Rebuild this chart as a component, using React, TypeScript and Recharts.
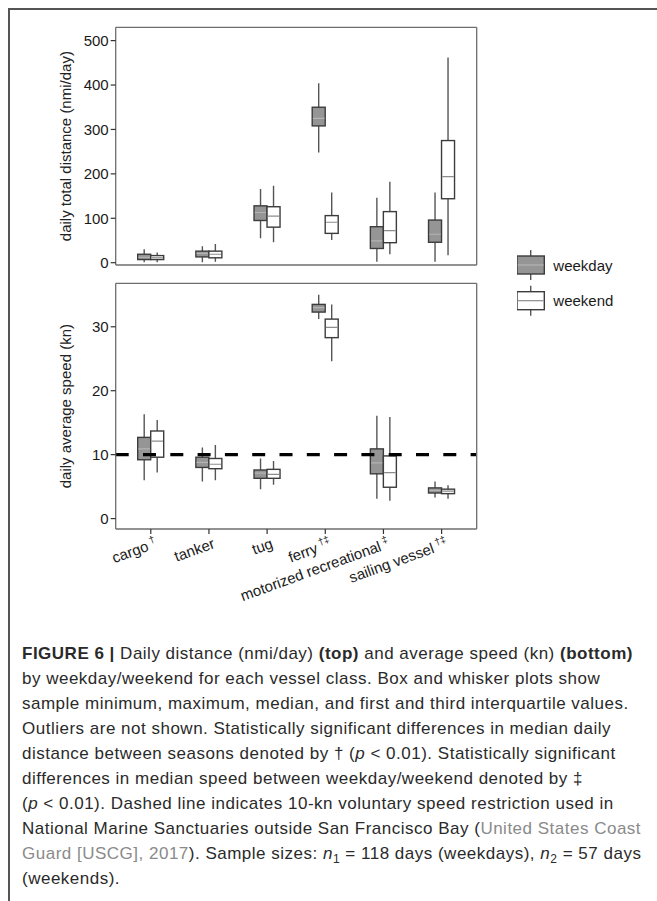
import React from "react";
import { ComposedChart, Bar, XAxis, YAxis, ReferenceLine } from "recharts";

const vesselClasses = ["cargo", "tanker", "tug", "ferry", "motorized recreational", "sailing vessel"];
const classMarks = ["†", "", "", "†‡", "‡", "†‡"];

// each entry: [min, q1, median, q3, max]
const distanceWeekday = [
  [1, 7, 12, 19, 30],
  [1, 13, 21, 26, 37],
  [55, 95, 113, 128, 166],
  [248, 308, 325, 350, 404],
  [2, 32, 49, 81, 146],
  [2, 46, 64, 96, 158],
];
const distanceWeekend = [
  [1, 7, 11, 16, 23],
  [2, 11, 19, 26, 42],
  [46, 80, 105, 126, 173],
  [51, 66, 91, 106, 158],
  [19, 45, 72, 115, 182],
  [17, 144, 194, 275, 462],
];
const speedWeekday = [
  [6.0, 9.2, 10.9, 12.7, 16.3],
  [5.8, 8.0, 8.8, 9.6, 11.1],
  [4.6, 6.3, 7.1, 7.6, 9.4],
  [31.2, 32.3, 33.0, 33.5, 35.0],
  [3.1, 7.0, 8.7, 10.9, 16.1],
  [3.3, 4.0, 4.4, 4.8, 5.8],
];
const speedWeekend = [
  [7.2, 9.6, 12.1, 13.7, 15.4],
  [6.0, 7.8, 8.5, 9.4, 11.5],
  [5.3, 6.3, 6.9, 7.7, 9.0],
  [24.6, 28.3, 29.9, 31.2, 33.5],
  [2.8, 4.9, 7.2, 9.8, 15.9],
  [3.1, 3.9, 4.3, 4.6, 5.2],
];
const distanceTicks = [0, 100, 200, 300, 400, 500];
const speedTicks = [0, 10, 20, 30];
const speedLimit = 10;

const FONT = '"Liberation Sans", Arial, Helvetica, sans-serif';
const WEEKDAY_FILL = "#959595";
const WEEKEND_FILL = "#ffffff";
const FRAME = "#6e6e6e";

const buildRows = (wd: number[][], we: number[][]) =>
  vesselClasses.map((name, i) => ({
    name,
    idx: i,
    wd: [wd[i][1], wd[i][3]],
    we: [we[i][1], we[i][3]],
    wdStats: wd[i],
    weStats: we[i],
  }));

const distanceRows = buildRows(distanceWeekday, distanceWeekend);
const speedRows = buildRows(speedWeekday, speedWeekend);

const boxShape = (key: "wdStats" | "weStats", fill: string, medianColor: string) => (props: any) => {
  const { x, y, width, height, payload } = props;
  if (!payload) return <g />;
  const [mn, q1, med, q3, mx] = payload[key];
  const top = Math.min(y, y + height);
  const h = Math.abs(height);
  const k = h / (q3 - q1);
  const py = (v: number) => top + (q3 - v) * k;
  const cx = x + width / 2;
  return (
    <g>
      <line x1={cx} x2={cx} y1={py(mx)} y2={py(mn)} stroke="#555" strokeWidth={1.4} />
      <rect x={x} y={top} width={width} height={h} fill={fill} stroke="#3c3c3c" strokeWidth={1.4} />
      <line x1={x + 0.7} x2={x + width - 0.7} y1={py(med)} y2={py(med)} stroke={medianColor} strokeWidth={1.2} />
    </g>
  );
};

const yTitle = (text: string) => (props: any) => {
  const vb = props.viewBox || {};
  const cx = vb.x + 8.3;
  const cy = vb.y + vb.height / 2;
  return (
    <text
      x={cx}
      y={cy}
      transform={`rotate(-90 ${cx} ${cy})`}
      textAnchor="middle"
      dominantBaseline="central"
      fontSize={15}
      fontFamily={FONT}
      fill="#222"
    >
      {text}
    </text>
  );
};

const VesselTick = (props: any) => {
  const { x, y, payload } = props;
  const mark = classMarks[payload.index] || "";
  return (
    <g transform={`translate(${x + 3},${y + 1}) rotate(-20)`}>
      <text textAnchor="end" dy="0.75em" fontSize={15} fontFamily={FONT} fill="#1a1a1a">
        {payload.value}
        {mark ? (
          <tspan dx={3} dy={-6} fontSize={10}>
            {mark}
          </tspan>
        ) : null}
      </text>
    </g>
  );
};

const tickStyle = { fontSize: 15, fill: "#1a1a1a", fontFamily: FONT };

function Panel({
  rows,
  ticks,
  domain,
  title,
  height,
  marginTop,
  bottomAxisHeight,
  showCategories,
  limit,
}: {
  rows: any[];
  ticks: number[];
  domain: [number, number];
  title: string;
  height: number;
  marginTop: number;
  bottomAxisHeight: number;
  showCategories: boolean;
  limit?: number;
}) {
  return (
    <ComposedChart
      width={657}
      height={height}
      data={rows}
      margin={{ top: marginTop, right: 179.3, bottom: 0, left: 57.7 }}
      barGap={0}
      barSize={13}
    >
      <XAxis
        dataKey="name"
        padding={{ left: 6, right: 6 }}
        axisLine={{ stroke: FRAME, strokeWidth: 1.3 }}
        tickLine={showCategories ? { stroke: "#333", strokeWidth: 1.2 } : false}
        tickSize={5}
        tick={showCategories ? <VesselTick /> : false}
        height={bottomAxisHeight}
        interval={0}
      />
      <XAxis
        xAxisId="top"
        dataKey="name"
        orientation="top"
        axisLine={{ stroke: FRAME, strokeWidth: 1.3 }}
        tickLine={false}
        tick={false}
        height={1}
      />
      <YAxis
        type="number"
        domain={domain}
        ticks={ticks}
        interval={0}
        allowDataOverflow
        width={58}
        axisLine={{ stroke: FRAME, strokeWidth: 1.3 }}
        tickLine={{ stroke: "#333", strokeWidth: 1.2 }}
        tickSize={5}
        tickMargin={2}
        tick={tickStyle}
        label={yTitle(title)}
      />
      <YAxis
        yAxisId="right"
        orientation="right"
        domain={[0, 1]}
        axisLine={{ stroke: FRAME, strokeWidth: 1.3 }}
        tickLine={false}
        tick={false}
        width={1}
      />
      <Bar dataKey="wd" fill={WEEKDAY_FILL} shape={boxShape("wdStats", WEEKDAY_FILL, "#b4b4b4")} isAnimationActive={false} />
      <Bar dataKey="we" fill={WEEKEND_FILL} shape={boxShape("weStats", WEEKEND_FILL, "#8c8c8c")} isAnimationActive={false} />
      {limit !== undefined ? (
        <ReferenceLine y={limit} stroke="#000" strokeWidth={3.2} strokeDasharray="13 14.3" />
      ) : null}
    </ComposedChart>
  );
}

function LegendBox({ y, fill, median }: { y: number; fill: string; median: string }) {
  return (
    <g>
      <line x1={13.7} x2={13.7} y1={y - 6} y2={y + 24} stroke="#555" strokeWidth={1.4} />
      <rect x={0} y={y} width={27.3} height={18} fill={fill} stroke="#3c3c3c" strokeWidth={1.4} />
      <line x1={0.7} x2={26.6} y1={y + 9} y2={y + 9} stroke={median} strokeWidth={1.2} />
    </g>
  );
}

const cap: React.CSSProperties = { whiteSpace: "nowrap", height: 25 };
const sub: React.CSSProperties = { fontSize: 12, position: "relative", top: 4, lineHeight: 0 };
const linkColor: React.CSSProperties = { color: "#8a8a8a" };

export default function App() {
  return (
    <div
      style={{
        position: "relative",
        width: 657,
        height: 901,
        background: "#fff",
        overflow: "hidden",
        fontFamily: FONT,
      }}
    >
      <style>{"body{margin:0}"}</style>
      <div style={{ position: "absolute", left: 8, top: 8, width: 649, height: 2, background: "#555" }} />
      <div style={{ position: "absolute", left: 8, top: 8, width: 2, height: 893, background: "#555" }} />

      <div style={{ position: "absolute", left: 0, top: 0 }}>
        <Panel
          rows={distanceRows}
          ticks={distanceTicks}
          domain={[-5.2, 530]}
          title="daily total distance (nmi/day)"
          height={275}
          marginTop={26.3}
          bottomAxisHeight={10}
          showCategories={false}
        />
      </div>
      <div style={{ position: "absolute", left: 0, top: 275 }}>
        <Panel
          rows={speedRows}
          ticks={speedTicks}
          domain={[-1.63, 36.8]}
          title="daily average speed (kn)"
          height={350}
          marginTop={7.3}
          bottomAxisHeight={96}
          showCategories
          limit={speedLimit}
        />
      </div>

      <svg style={{ position: "absolute", left: 516.7, top: 244 }} width={120} height={80}>
        <LegendBox y={12} fill={WEEKDAY_FILL} median="#b4b4b4" />
        <LegendBox y={47.7} fill={WEEKEND_FILL} median="#8c8c8c" />
        <text x={36.3} y={21} dominantBaseline="central" fontSize={15} fontFamily={FONT} fill="#1a1a1a">
          weekday
        </text>
        <text x={36.3} y={56.7} dominantBaseline="central" fontSize={15} fontFamily={FONT} fill="#1a1a1a">
          weekend
        </text>
      </svg>

      <div
        style={{
          position: "absolute",
          left: 22,
          top: 641,
          fontSize: 17,
          lineHeight: "25px",
          color: "#2a2a2a",
          letterSpacing: 0.5,
        }}
      >
        <div style={cap}>
          <b>FIGURE 6 |</b> Daily distance (nmi/day) <b>(top)</b> and average speed (kn) <b>(bottom)</b>
        </div>
        <div style={cap}>by weekday/weekend for each vessel class. Box and whisker plots show</div>
        <div style={cap}>sample minimum, maximum, median, and first and third interquartile values.</div>
        <div style={cap}>Outliers are not shown. Statistically significant differences in median daily</div>
        <div style={cap}>
          distance between seasons denoted by † (<i>p</i> &lt; 0.01). Statistically significant
        </div>
        <div style={cap}>differences in median speed between weekday/weekend denoted by ‡</div>
        <div style={cap}>
          (<i>p</i> &lt; 0.01). Dashed line indicates 10-kn voluntary speed restriction used in
        </div>
        <div style={cap}>
          National Marine Sanctuaries outside San Francisco Bay (<span style={linkColor}>United States Coast</span>
        </div>
        <div style={cap}>
          <span style={linkColor}>Guard [USCG], 2017</span>). Sample sizes: <i>n</i>
          <span style={sub}>1</span> = 118 days (weekdays), <i>n</i>
          <span style={sub}>2</span> = 57 days
        </div>
        <div style={cap}>(weekends).</div>
      </div>
    </div>
  );
}
